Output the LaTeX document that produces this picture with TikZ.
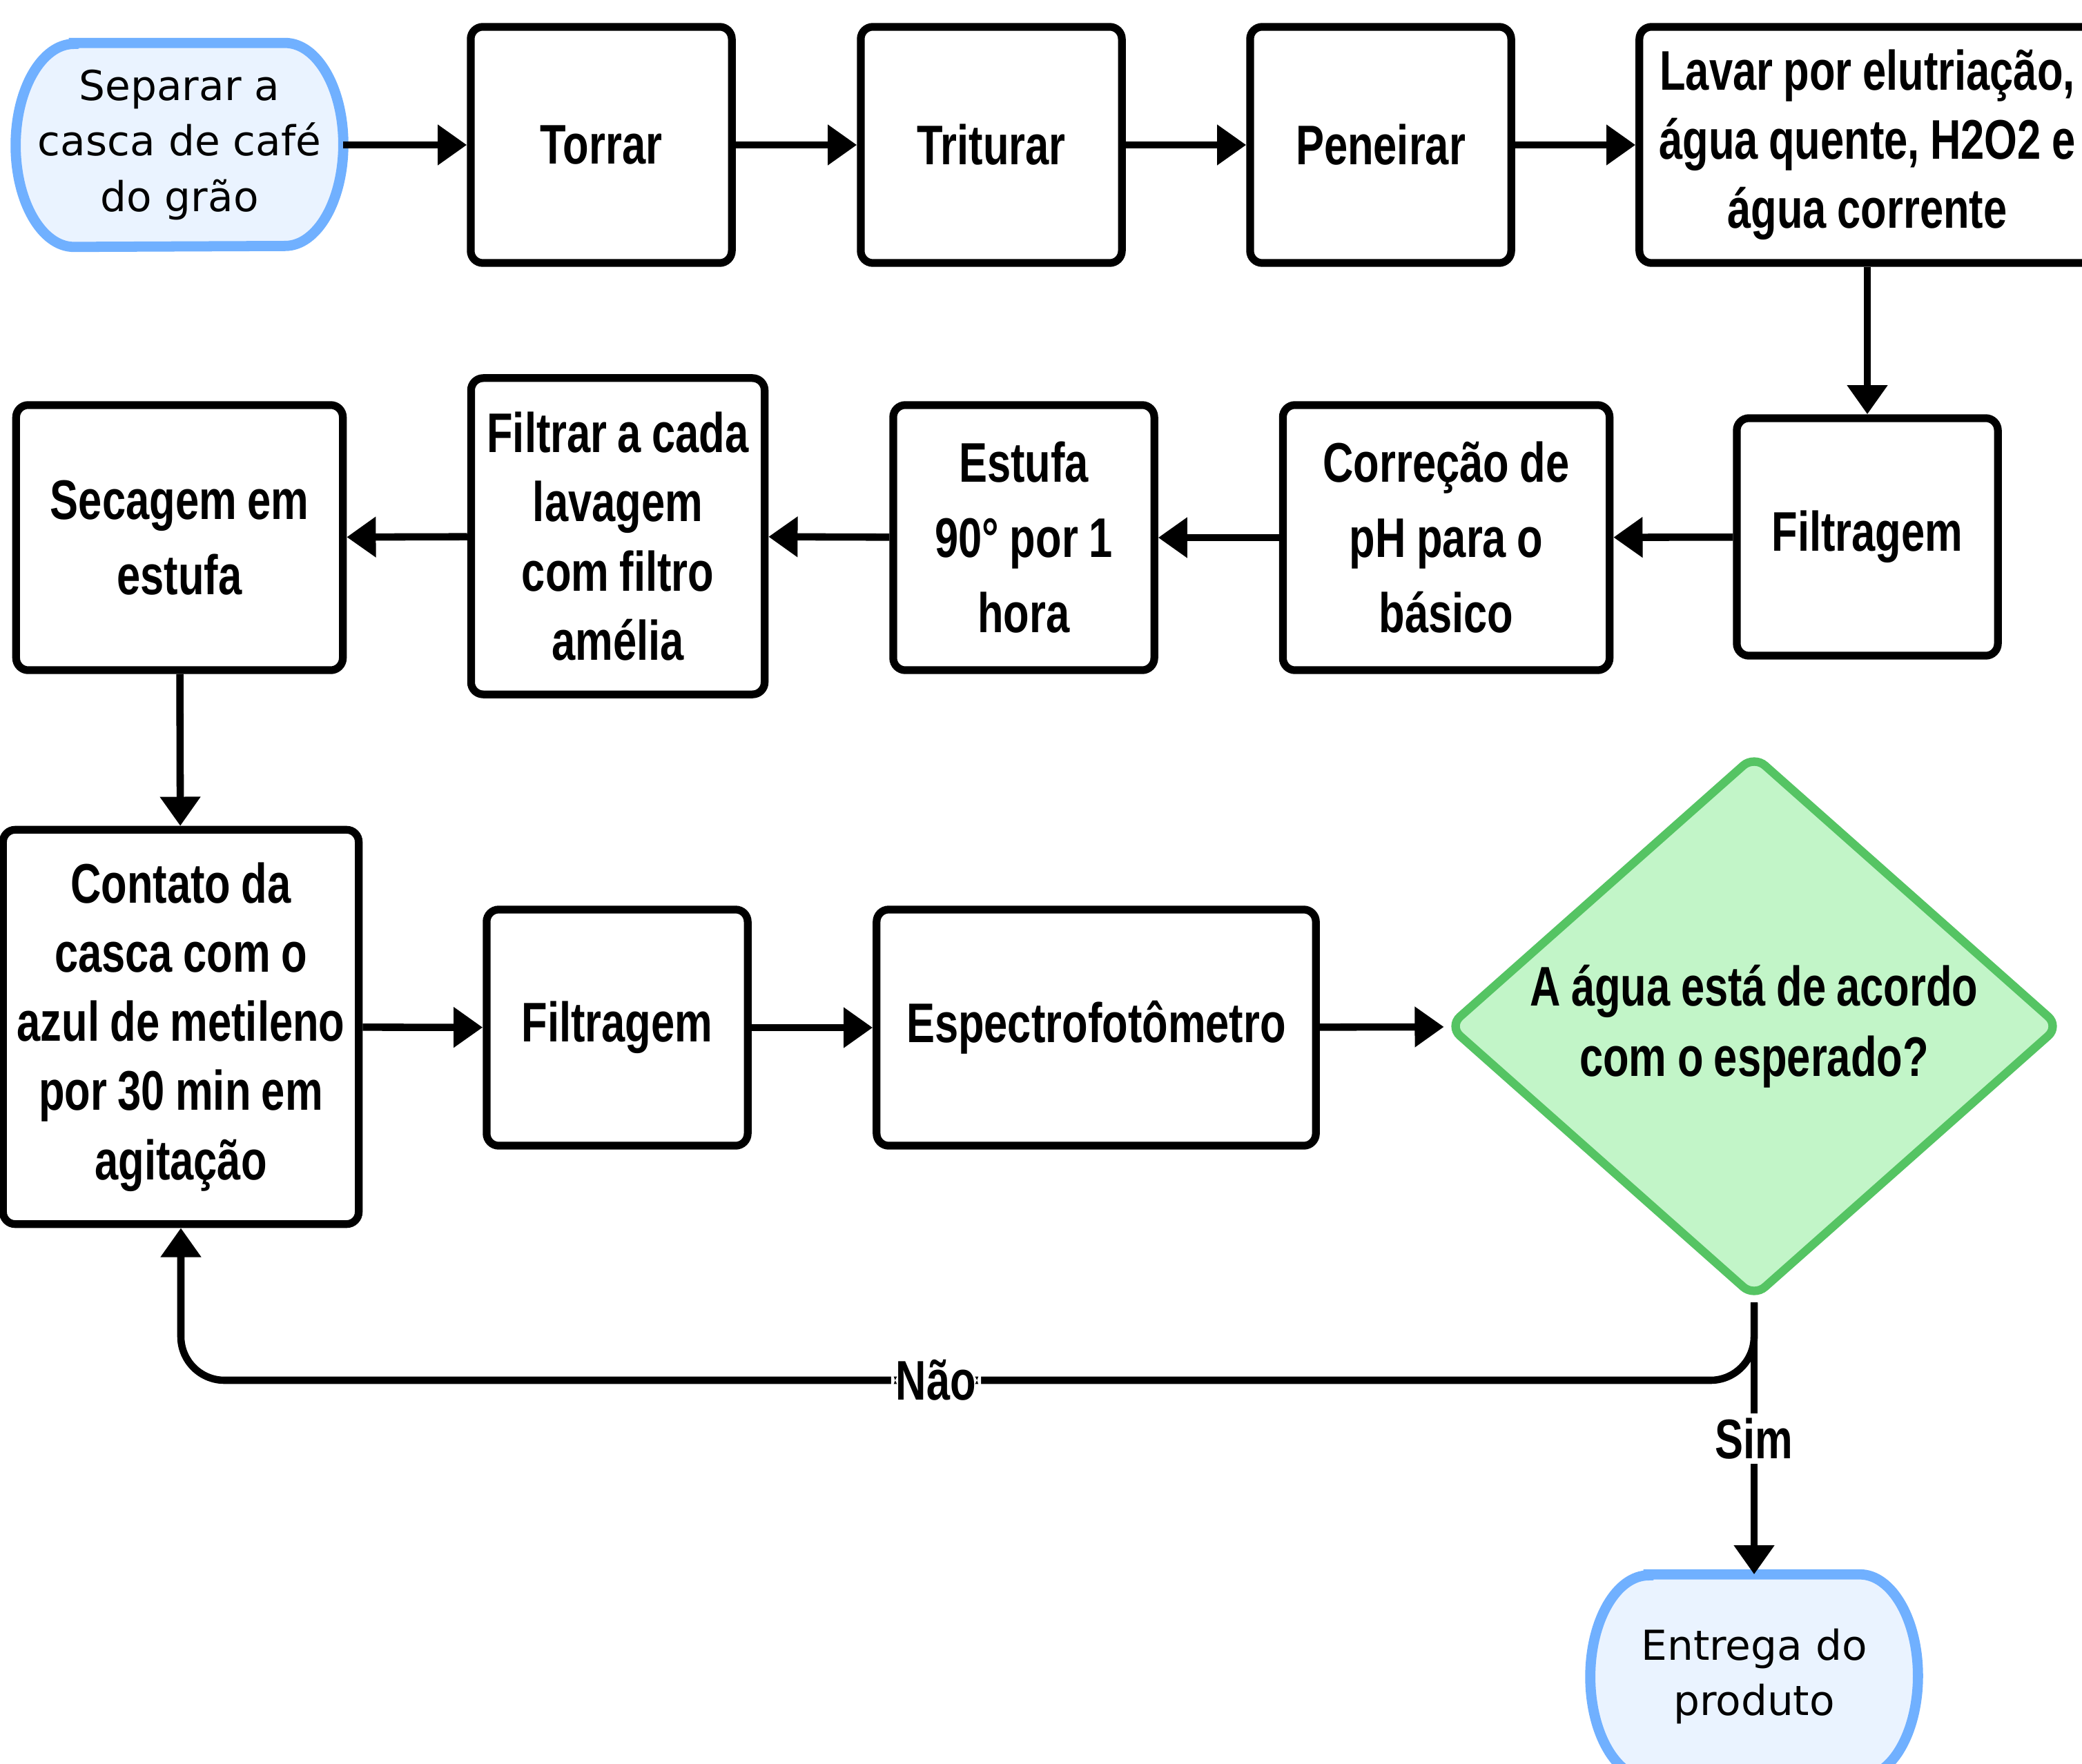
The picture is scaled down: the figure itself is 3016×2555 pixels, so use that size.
\documentclass[tikz,border=0pt]{standalone}
\usepackage{fontspec}
\setmainfont{Liberation Sans}[FakeStretch=0.76, WordSpace=0.9]
\newfontfamily\termfont{DejaVu Sans}
\usetikzlibrary{arrows.meta,shapes.geometric,backgrounds,positioning}

\definecolor{termblue}{HTML}{70B0FF}
\definecolor{termfill}{HTML}{EAF3FF}
\definecolor{decgreen}{HTML}{55C463}
\definecolor{decfill}{HTML}{C2F5C8}

\tikzset{
  stepbox/.style = {draw, line width = 3.2pt, rounded corners = 5pt, align = center, inner sep = 4pt,
    minimum width = 3.78cm, minimum height = 3.42cm, font = \fontsize{23}{28.5}\selectfont\bfseries},
  tallbox/.style = {stepbox, minimum height = 3.84cm, font = \fontsize{23}{31}\selectfont\bfseries},
  termbox/.style = {align = center, minimum width = 4.73cm, minimum height = 2.94cm,
    font = \termfont\fontsize{17}{23}\selectfont},
  termline/.style = {draw = termblue, fill = termfill, line width = 4.2pt},
  decbox/.style = {diamond, draw = decgreen, fill = decfill, line width = 3.5pt, rounded corners = 6pt,
    aspect = 1.127, minimum width = 8.88cm, minimum height = 7.88cm, inner sep = 0pt, align = center,
    font = \fontsize{23}{29}\selectfont\bfseries},
  flow/.style = {line width = 3pt, -{Triangle[length = 12pt, width = 16pt]}},
  lbl/.style = {fill = white, inner sep = 2pt, font = \fontsize{23}{28}\selectfont\bfseries}
}

\newcommand{\termoutline}[1]{%
  \path[termline] ([xshift = 24pt]#1.north west) -- ([xshift = -24pt]#1.north east)
    arc[start angle = 90, end angle = -90, x radius = 24pt, y radius = 1.47cm]
    -- ([xshift = 24pt]#1.south west)
    arc[start angle = 270, end angle = 90, x radius = 24pt, y radius = 1.47cm] -- cycle;}

\begin{document}
\begin{tikzpicture}[x = 0.01cm, y = -0.01cm]
\useasboundingbox (0,0) rectangle (3016,2555);

\node[termbox] (sep) at (260,210) {Separar a\\casca de café\\do grão};
\node[stepbox] (tor) at (871,210) {Torrar};
\node[stepbox] (tri) at (1436,210) {Triturar};
\node[stepbox] (pen) at (2000,210) {Peneirar};
\node[stepbox, minimum width = 6.6cm] (lav) at (2705,210) {Lavar por elutriação,\\água quente, H2O2 e\\água corrente};

\node[stepbox, minimum height = 3.44cm] (fil1) at (2705,778) {Filtragem};
\node[tallbox, minimum width = 4.73cm] (cor) at (2095,779) {Correção de\\pH para o\\básico};
\node[tallbox] (est) at (1483,779) {Estufa\\90° por 1\\hora};
\node[stepbox, minimum width = 4.25cm, minimum height = 4.58cm] (ftr) at (895,777) {Filtrar a cada\\lavagem\\com filtro\\amélia};
\node[tallbox, minimum width = 4.73cm] (sec) at (260,779) {Secagem em\\estufa};

\node[stepbox, minimum width = 5.15cm, minimum height = 5.71cm] (con) at (262,1488) {Contato da\\casca com o\\azul de metileno\\por 30 min em\\agitação};
\node[stepbox] (fil2) at (894,1489) {Filtragem};
\node[stepbox, minimum width = 6.36cm] (esp) at (1588,1489) {Espectrofotômetro};
\node[decbox] (dec) at (2541,1487) {A água está de acordo\\com o esperado?};
\node[termbox] (ent) at (2541,2429) {Entrega do\\produto};
\coordinate (volta) at (2541,2000);

\begin{scope}[on background layer]
\termoutline{sep}
\termoutline{ent}
\end{scope}

\draw[flow] (sep) -- (tor);
\draw[flow] (tor) -- (tri);
\draw[flow] (tri) -- (pen);
\draw[flow] (pen) -- (lav);
\draw[flow] (lav) -- (fil1);
\draw[flow] (fil1) -- (cor);
\draw[flow] (cor) -- (est);
\draw[flow] (est) -- (ftr);
\draw[flow] (ftr) -- (sec);
\draw[flow] (sec) -- (con);
\draw[flow] (con) -- (fil2);
\draw[flow] (fil2) -- (esp);
\draw[flow] (esp) -- (dec);
\draw[flow] (dec.south) -- node[lbl] {Sim} (ent.north);
\draw[flow, rounded corners = 18pt] (dec.south) -- (volta) -| node[lbl, pos = 0.26] {Não} (con.south);
\end{tikzpicture}
\end{document}
